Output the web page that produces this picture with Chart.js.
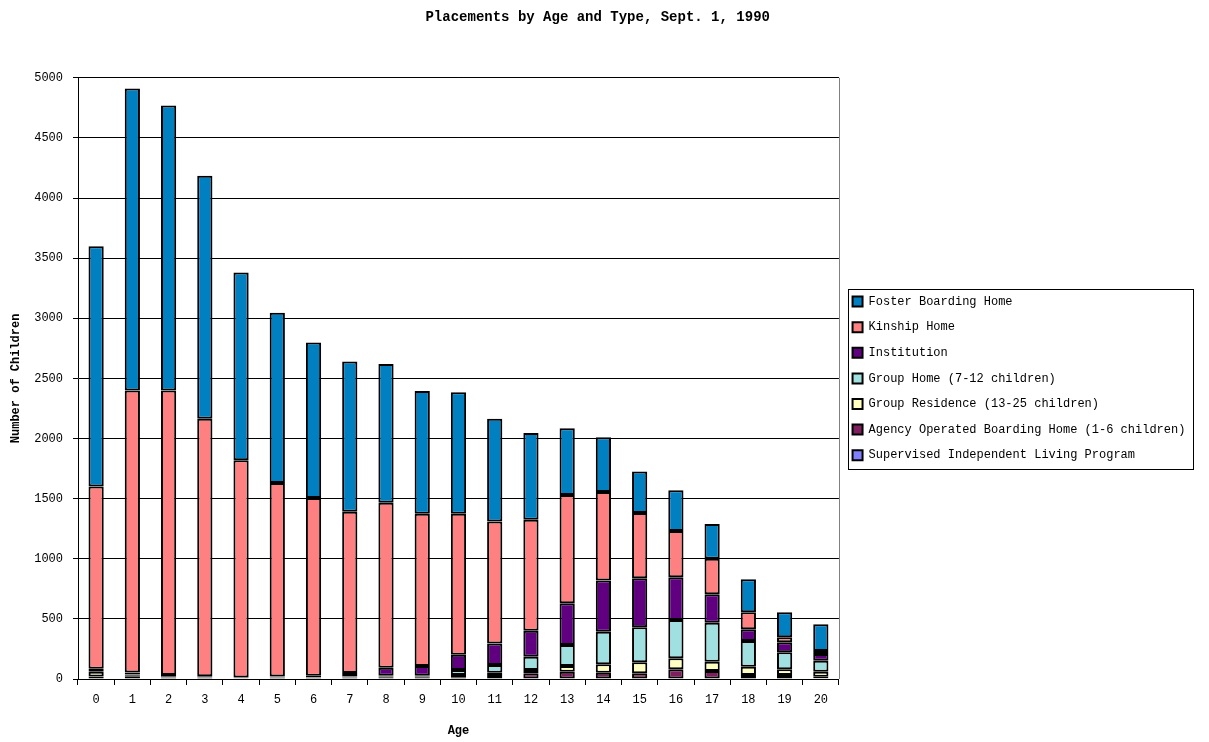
<!DOCTYPE html>
<html>
<head>
<meta charset="utf-8">
<title>Placements by Age and Type, Sept. 1, 1990</title>
<script src="https://cdn.jsdelivr.net/npm/chart.js@4/dist/chart.umd.min.js"></script>
<style>
  html, body { margin: 0; padding: 0; background: #ffffff; }
  #wrap { width: 1209px; height: 742px; position: relative; }
</style>
</head>
<body>
<div id="wrap"><canvas id="chart" width="1209" height="742"></canvas></div>
<script>
// Ages on the category axis
const ages = ['0','1','2','3','4','5','6','7','8','9','10','11','12','13','14','15','16','17','18','19','20'];

// Children in placement by type, per age (stacked bottom to top)
const supervisedIndependentLiving = [0,0,0,0,0,0,0,0,0,0,0,0,0,0,0,0,0,0,0,0,6];
const agencyBoardingHome = [20,22,10,8,5,8,10,10,15,15,14,33,47,61,52,47,81,67,33,33,13];
const groupResidence = [40,10,5,3,1,2,3,4,6,6,19,18,28,47,70,92,91,77,69,48,42];
const groupHome = [0,5,3,2,1,2,4,6,6,7,42,65,111,175,270,291,319,324,214,141,91];
const institution = [25,18,15,10,5,8,10,30,67,80,127,180,216,347,428,408,355,237,97,83,56];
const kinshipHome = [1515,2345,2367,2142,1808,1610,1478,1340,1371,1267,1173,1014,923,900,735,542,384,295,142,42,25];
const fosterBoardingHome = [2000,2510,2370,2020,1560,1415,1293,1250,1155,1020,1010,855,720,555,455,345,340,290,275,208,222];

// Value axis ticks
const yTicks = [0,500,1000,1500,2000,2500,3000,3500,4000,4500,5000];

const FONT = "'Liberation Mono', 'DejaVu Sans Mono', monospace";

function series(label, data, color) {
  return {
    label: label,
    data: data,
    backgroundColor: color,
    borderColor: '#000000',
    borderWidth: 2,
    borderSkipped: false,
    barPercentage: 0.42,
    categoryPercentage: 1.0
  };
}

// Grey frame on the right side of the plot, plus the legend's box
const framePlugin = {
  id: 'frame',
  afterDraw(chart) {
    const ctx = chart.ctx;
    const a = chart.chartArea;
    ctx.save();
    ctx.strokeStyle = '#808080';
    ctx.lineWidth = 1;
    ctx.beginPath();
    ctx.moveTo(Math.round(a.right) + 0.5, a.top);
    ctx.lineTo(Math.round(a.right) + 0.5, a.bottom);
    ctx.stroke();

    const boxes = chart.legend && chart.legend.legendHitBoxes;
    if (boxes && boxes.length) {
      let l = Infinity, t = Infinity, r = -Infinity, b = -Infinity;
      boxes.forEach(h => {
        l = Math.min(l, h.left); t = Math.min(t, h.top);
        r = Math.max(r, h.left + h.width); b = Math.max(b, h.top + h.height);
      });
      ctx.strokeStyle = '#000000';
      ctx.strokeRect(Math.round(l - 5) + 0.5, Math.round(t - 7) + 0.5,
                     Math.round(r - l + 12), Math.round(b - t + 14));
    }
    ctx.restore();
  }
};

new Chart(document.getElementById('chart'), {
  type: 'bar',
  data: {
    labels: ages,
    datasets: [
      series('Supervised Independent Living Program', supervisedIndependentLiving, '#8080FF'),
      series('Agency Operated Boarding Home (1-6 children)', agencyBoardingHome, '#801F60'),
      series('Group Residence (13-25 children)', groupResidence, '#FFFFC0'),
      series('Group Home (7-12 children)', groupHome, '#A0E0E0'),
      series('Institution', institution, '#600080'),
      series('Kinship Home', kinshipHome, '#FF8080'),
      series('Foster Boarding Home', fosterBoardingHome, '#0080C0')
    ]
  },
  options: {
    responsive: false,
    animation: false,
    maintainAspectRatio: false,
    layout: { padding: { left: 0, right: 13.6, top: 0, bottom: 0 } },
    plugins: {
      tooltip: { enabled: false },
      title: {
        display: true,
        text: 'Placements by Age and Type, Sept. 1, 1990',
        color: '#000000',
        font: { family: FONT, size: 14, weight: 'bold' },
        padding: { top: 9, bottom: 52 }
      },
      legend: {
        display: true,
        position: 'right',
        fullSize: false,
        reverse: true,
        maxWidth: 420,
        labels: {
          color: '#000000',
          font: { family: FONT, size: 12 },
          boxWidth: 10,
          boxHeight: 10,
          padding: 13.6
        }
      }
    },
    scales: {
      x: {
        stacked: true,
        afterFit(scale) { scale.height = 63; },
        grid: {
          offset: true,
          drawOnChartArea: false,
          color: '#000000',
          tickLength: 6
        },
        border: { display: true, color: '#000000', width: 1 },
        ticks: {
          color: '#000000',
          font: { family: FONT, size: 12 },
          padding: 8,
          maxRotation: 0,
          autoSkip: false
        },
        title: {
          display: true,
          text: 'Age',
          color: '#000000',
          font: { family: FONT, size: 12, weight: 'bold' },
          padding: { top: 0, bottom: 4 }
        }
      },
      y: {
        stacked: true,
        min: yTicks[0],
        max: yTicks[yTicks.length - 1],
        afterFit(scale) { scale.width = 78; },
        afterBuildTicks(scale) { scale.ticks = yTicks.map(v => ({ value: v })); },
        grid: {
          color: '#000000',
          lineWidth: 1,
          tickLength: 5
        },
        border: { display: true, color: '#000000', width: 1 },
        ticks: {
          color: '#000000',
          font: { family: FONT, size: 12 },
          padding: 10,
          callback: v => String(v)
        },
        title: {
          display: true,
          text: 'Number of Children',
          color: '#000000',
          font: { family: FONT, size: 12, weight: 'bold' },
          padding: { top: 9, bottom: 0 }
        }
      }
    }
  },
  plugins: [framePlugin]
});
</script>
</body>
</html>
